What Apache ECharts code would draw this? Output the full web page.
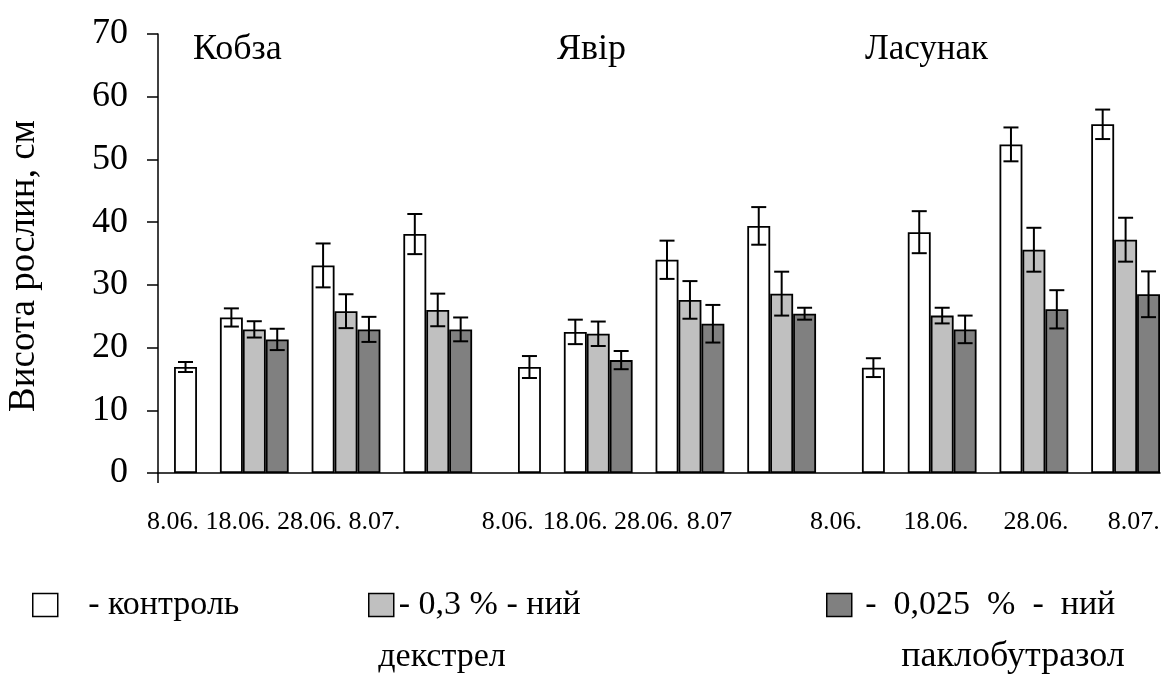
<!DOCTYPE html>
<html>
<head>
<meta charset="utf-8">
<script src="https://cdn.jsdelivr.net/npm/echarts@6/dist/echarts.min.js"></script>
<style>html,body{margin:0;padding:0;background:#fff}#c{width:1171px;height:677px}</style>
</head>
<body>
<div id="c"></div>
<script>
// ---- data ----
const varieties = ['Кобза', 'Явір', 'Ласунак'];
const dates = ['8.06.', '18.06.', '28.06.', '8.07.', '8.06.', '18.06.', '28.06.', '8.07', '8.06.', '18.06.', '28.06.', '8.07.'];
const seriesNames = ['контроль', 'декстрел', 'паклобутразол'];
const legendTexts = ['- контроль', '- 0,3 % - ний', '-  0,025  %  -  ний'];
const yTitle = 'Висота рослин, см';
const yTicks = [0, 10, 20, 30, 40, 50, 60, 70];
const control    = [16.9, 24.8, 33.1, 38.1, 16.9, 22.5, 34.0, 39.4, 16.8, 38.4, 52.4, 55.6];
const controlErr = [0.8, 1.45, 3.5, 3.2, 1.75, 1.95, 3.05, 3.0, 1.5, 3.35, 2.7, 2.35];
const dextrel    = [null, 22.9, 25.8, 26.0, null, 22.2, 27.6, 28.6, null, 25.1, 35.6, 37.2];
const dextrelErr = [null, 1.3, 2.7, 2.6, null, 1.95, 3.0, 3.5, null, 1.25, 3.5, 3.5];
const pacl       = [null, 21.3, 22.9, 22.9, null, 18.0, 23.8, 25.4, null, 22.9, 26.1, 28.5];
const paclErr    = [null, 1.7, 2.0, 1.9, null, 1.45, 3.0, 0.95, null, 2.2, 3.05, 3.65];

// ---- layout (slot units = one bar width) ----
const OFFSET = 0.7;          // empty space before first bar
const TOTAL = 43 + OFFSET;   // axis extent
function slotOf(i, s) {      // i: category index 0..11, s: series 0..2
  const v = Math.floor(i / 4), d = i % 4;
  return v * 15 + (d === 0 ? 0 : 2 + (d - 1) * 4) + s;
}
const labelPos = [0.65, 3.49, 6.61, 9.44, 15.25, 18.2, 21.3, 24.05, 29.57, 33.93, 38.29, 42.56];

const W = 1171, gridLeft = 158, gridRight = 11, gridTop = 34, gridBottom = 204;
const unitPx = (W - gridLeft - gridRight) / TOTAL;

const FONT = 'Liberation Serif';
const fills = ['#ffffff', '#c0c0c0', '#808080'];
const vals = [control, dextrel, pacl];
const errs = [controlErr, dextrelErr, paclErr];

const barSeries = vals.map((arr, s) => ({
  name: seriesNames[s],
  type: 'bar',
  barWidth: unitPx,
  barGap: '-100%',
  itemStyle: { color: fills[s], borderColor: '#000', borderWidth: 1.8 },
  data: arr.map((v, i) => v == null ? null : [OFFSET + slotOf(i, s) + 0.5, v]).filter(Boolean),
  z: 2
}));

const errData = [];
vals.forEach((arr, s) => arr.forEach((v, i) => {
  if (v == null) return;
  const e = errs[s][i];
  errData.push([OFFSET + slotOf(i, s) + 0.5, v - e, v + e]);
}));

const errSeries = {
  type: 'custom',
  name: 'err',
  data: errData,
  z: 5,
  renderItem: function (params, api) {
    const x = api.value(0);
    const lo = api.coord([x, api.value(1)]);
    const hi = api.coord([x, api.value(2)]);
    const hw = 7.5;
    const st = { stroke: '#000', lineWidth: 2 };
    return {
      type: 'group',
      children: [
        { type: 'line', shape: { x1: lo[0], y1: lo[1], x2: hi[0], y2: hi[1] }, style: st },
        { type: 'line', shape: { x1: lo[0] - hw, y1: lo[1], x2: lo[0] + hw, y2: lo[1] }, style: st },
        { type: 'line', shape: { x1: hi[0] - hw, y1: hi[1], x2: hi[0] + hw, y2: hi[1] }, style: st }
      ]
    };
  }
};

function mkLegend(idx, left, pre) {
  return {
    data: [seriesNames[idx]],
    left: left, top: 583,
    icon: 'rect', itemWidth: 25, itemHeight: 23,
    selectedMode: false,
    itemStyle: { borderColor: '#000', borderWidth: 1.5 },
    formatter: () => pre + legendTexts[idx],
    textStyle: { fontFamily: FONT, fontSize: 34, color: '#000' }
  };
}

const chart = echarts.init(document.getElementById('c'), null, { renderer: 'canvas' });
chart.setOption({
  animation: false,
  backgroundColor: '#fff',
  grid: { left: gridLeft, right: gridRight, top: gridTop, bottom: gridBottom, containLabel: false },
  xAxis: {
    type: 'value', min: 0, max: TOTAL,
    splitLine: { show: false },
    axisLine: { show: true, onZero: false, lineStyle: { color: '#000', width: 1.5 } },
    axisTick: { show: true, customValues: [0], length: 10, lineStyle: { color: '#000', width: 1.5 } },
    axisLabel: {
      show: true, customValues: labelPos, margin: 36, hideOverlap: false,
      showMinLabel: true, showMaxLabel: true,
      fontFamily: FONT, fontSize: 26, color: '#000',
      formatter: function (v) {
        let best = 0, bd = Infinity;
        labelPos.forEach((p, k) => { const d = Math.abs(p - v); if (d < bd) { bd = d; best = k; } });
        return dates[best];
      }
    }
  },
  yAxis: {
    type: 'value', min: 0, max: 70, interval: 10,
    splitLine: { show: false },
    axisLine: { show: true, lineStyle: { color: '#000', width: 1.5 } },
    axisTick: { show: true, length: 11, lineStyle: { color: '#000', width: 1.5 } },
    axisLabel: { margin: 30, fontFamily: FONT, fontSize: 36, color: '#000',
      formatter: v => yTicks.includes(v) ? String(v) : '' }
  },
  legend: [mkLegend(0, 27, '   '), mkLegend(1, 363, ''), mkLegend(2, 821, ' ')],
  graphic: [
    { type: 'text', x: 24, y: 266, rotation: Math.PI / 2,
      style: { text: yTitle, font: '37px ' + FONT, fill: '#000', textAlign: 'center', textVerticalAlign: 'middle' } },
    { type: 'text', left: 193, top: 32, style: { text: varieties[0], font: '36px ' + FONT, fill: '#000' } },
    { type: 'text', left: 557, top: 32, style: { text: varieties[1], font: '36px ' + FONT, fill: '#000' } },
    { type: 'text', left: 865, top: 32, style: { text: varieties[2], font: '35px ' + FONT, fill: '#000' } },
    { type: 'text', x: 442, y: 657, style: { text: 'декстрел', font: '34px ' + FONT, fill: '#000', textAlign: 'center', textVerticalAlign: 'middle' } },
    { type: 'text', x: 1013, y: 657, style: { text: 'паклобутразол', font: '36px ' + FONT, fill: '#000', textAlign: 'center', textVerticalAlign: 'middle' } }
  ],
  series: [...barSeries, errSeries]
});
</script>
</body>
</html>
